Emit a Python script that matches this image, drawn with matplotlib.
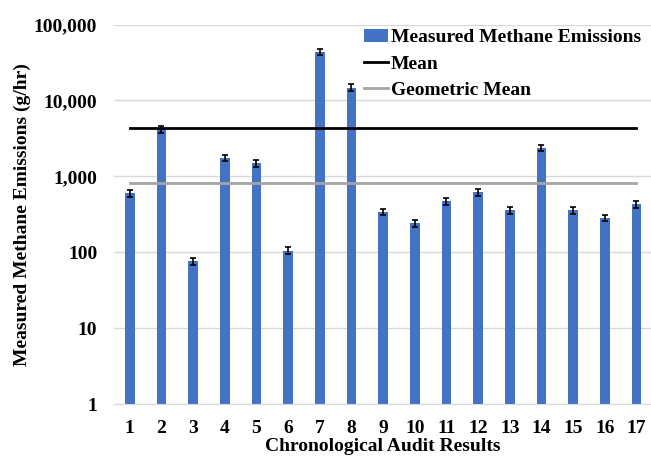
import matplotlib
matplotlib.use("Agg")
import matplotlib.pyplot as plt
from matplotlib.ticker import FixedLocator, FuncFormatter

# audit results (g/hr)
audits = list(range(1, 18))
emissions = [600, 4150, 77, 1760, 1480, 105, 43600, 14800, 342, 241,
             469, 621, 357, 2380, 360, 285, 428]
errors = [60, 420, 8, 180, 150, 11, 4400, 1500, 35, 25,
          47, 62, 36, 240, 36, 29, 43]
mean_value = 4280
geo_mean_value = 816

plt.rcParams['font.family'] = ['Liberation Serif', 'DejaVu Serif']
plt.rcParams['font.weight'] = 'bold'

fig = plt.figure(figsize=(6.51, 4.59), dpi=100)
ax = fig.add_axes([0.175, 0.1192, 0.827, 0.8274])

bars = ax.bar(audits, emissions, width=0.31, color='#4472C4', zorder=2,
              label='Measured Methane Emissions')
ax.errorbar(audits, emissions, yerr=errors, fmt='none', ecolor='black',
            elinewidth=1.2, capsize=2.2, capthick=1.2, zorder=3)
mline, = ax.plot([audits[0], audits[-1]], [mean_value, mean_value],
                 color='black', lw=2, zorder=4, label='Mean')
gline, = ax.plot([audits[0], audits[-1]], [geo_mean_value, geo_mean_value],
                 color='#A5A5A5', lw=2, zorder=4, label='Geometric Mean')

ax.set_yscale('log')
ax.set_ylim(1, 100000)
ax.set_xlim(0.5, 17.5)
ax.yaxis.set_major_locator(FixedLocator([1, 10, 100, 1000, 10000, 100000]))
ax.yaxis.set_minor_locator(FixedLocator([]))
ax.yaxis.set_major_formatter(FuncFormatter(lambda v, p: f"{int(round(v)):,}"))
ax.set_xticks(audits)
ax.tick_params(axis='both', length=0, labelsize=14)
ax.tick_params(axis='x', pad=11)
ax.tick_params(axis='y', pad=12)
for lab in ax.get_xticklabels() + ax.get_yticklabels():
    lab.set_fontweight('bold')

ax.grid(axis='y', color='#D9D9D9', lw=1, zorder=0)
for s in ['left', 'right', 'top']:
    ax.spines[s].set_visible(False)
ax.spines['bottom'].set_color('#D9D9D9')

ax.set_ylabel('Measured Methane Emissions (g/hr)', fontsize=14,
              fontweight='bold', labelpad=2)
ax.set_xlabel('Chronological Audit Results', fontsize=14,
              fontweight='bold', labelpad=1)

leg = ax.legend([bars, mline, gline],
                ['Measured Methane Emissions', 'Mean', 'Geometric Mean'],
                loc='upper right', bbox_to_anchor=(1.0, 1.02), frameon=False,
                fontsize=14, handlelength=1.2, handletextpad=0.15,
                labelspacing=0.45, borderaxespad=0.2)
for t in leg.get_texts():
    t.set_fontweight('bold')

fig.savefig('out.png', dpi=100)
